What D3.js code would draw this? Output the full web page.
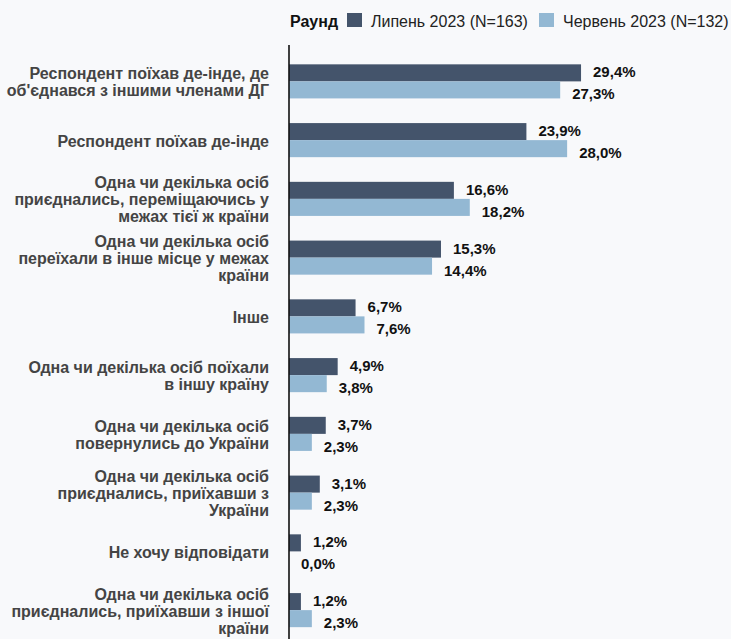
<!DOCTYPE html>
<html><head><meta charset="utf-8">
<script src="https://cdn.jsdelivr.net/npm/d3@7"></script>
<style>
html,body{margin:0;padding:0;background:#f8f9fb;}
svg{display:block;font-family:"Liberation Sans",Arial,sans-serif;}
</style></head>
<body>
<script>
const categories = [
  "Респондент поїхав де-інде, де\nоб'єднався з іншими членами ДГ",
  "Респондент поїхав де-інде",
  "Одна чи декілька осіб\nприєднались, переміщаючись у\nмежах тієї ж країни",
  "Одна чи декілька осіб\nпереїхали в інше місце у межах\nкраїни",
  "Інше",
  "Одна чи декілька осіб поїхали\nв іншу країну",
  "Одна чи декілька осіб\nповернулись до України",
  "Одна чи декілька осіб\nприєднались, приїхавши з\nУкраїни",
  "Не хочу відповідати",
  "Одна чи декілька осіб\nприєднались, приїхавши з іншої\nкраїни"
];
const seriesNames = ["Липень 2023 (N=163)", "Червень 2023 (N=132)"];
const july = [29.4, 23.9, 16.6, 15.3, 6.7, 4.9, 3.7, 3.1, 1.2, 1.2];
const june = [27.3, 28.0, 18.2, 14.4, 7.6, 3.8, 2.3, 2.3, 0.0, 2.3];
const legendTitle = "Раунд";
const colors = ["#44546b", "#93b8d3"];

const W = 731, H = 639;
const svg = d3.select("body").append("svg").attr("width", W).attr("height", H);
svg.append("rect").attr("width", W).attr("height", H).attr("fill", "#f8f9fb");

const x = d3.scaleLinear().domain([0, 30]).range([289, 587]);
const y = d3.scaleBand().domain(d3.range(categories.length)).range([52, 639.5]).paddingInner(0.42).paddingOuter(0.21);
const sub = d3.scaleBand().domain([0, 1]).range([0, y.bandwidth()]);

const series = [july, june];
const g = svg.append("g");
series.forEach((vals, si) => {
  g.selectAll(null).data(vals).enter().append("rect")
    .attr("x", x(0))
    .attr("y", (d, i) => y(i) + sub(si))
    .attr("width", d => x(d) - x(0))
    .attr("height", sub.bandwidth())
    .attr("fill", colors[si]);
  g.selectAll(null).data(vals).enter().append("text")
    .attr("x", d => x(d) + 12)
    .attr("y", (d, i) => y(i) + sub(si) + sub.bandwidth() / 2 + (si === 0 ? -1 : 4))
    .attr("dominant-baseline", "central")
    .attr("font-size", "15px").attr("font-weight", "bold").attr("fill", "#111")
    .text(d => d.toFixed(1).replace(".", ",") + "%");
});

// category labels
const lab = svg.append("g");
categories.forEach((c, i) => {
  const lines = c.split("\n");
  const cy = y(i) + y.bandwidth() / 2 + 1;
  const t = lab.append("text").attr("text-anchor", "end")
    .attr("font-size", "16px").attr("font-weight", "bold").attr("fill", "#444");
  lines.forEach((ln, k) => {
    t.append("tspan").attr("x", 269)
      .attr("y", cy + (k - (lines.length - 1) / 2) * 17)
      .attr("dominant-baseline", "central").text(ln);
  });
});

// axis line
const yAxis = d3.axisLeft(y).tickSize(0).tickFormat("");
const ax = svg.append("g").attr("transform", `translate(${x(0)},0)`).call(yAxis);
ax.select(".domain").attr("stroke", "#111").attr("stroke-width", 1.6)
  .attr("d", `M0,45V${H}`);

// legend
const leg = svg.append("g");
leg.append("text").attr("x", 290).attr("y", 21).attr("dominant-baseline", "central")
  .attr("font-size", "16px").attr("font-weight", "bold").attr("fill", "#111").text(legendTitle);
const legX = [347, 539];
seriesNames.forEach((s, i) => {
  leg.append("rect").attr("x", legX[i]).attr("y", 13).attr("width", 15).attr("height", 14).attr("fill", colors[i]);
  leg.append("text").attr("x", legX[i] + 24).attr("y", 21).attr("dominant-baseline", "central")
    .attr("font-size", "16px").attr("fill", "#222").text(s);
});
</script>
</body></html>
